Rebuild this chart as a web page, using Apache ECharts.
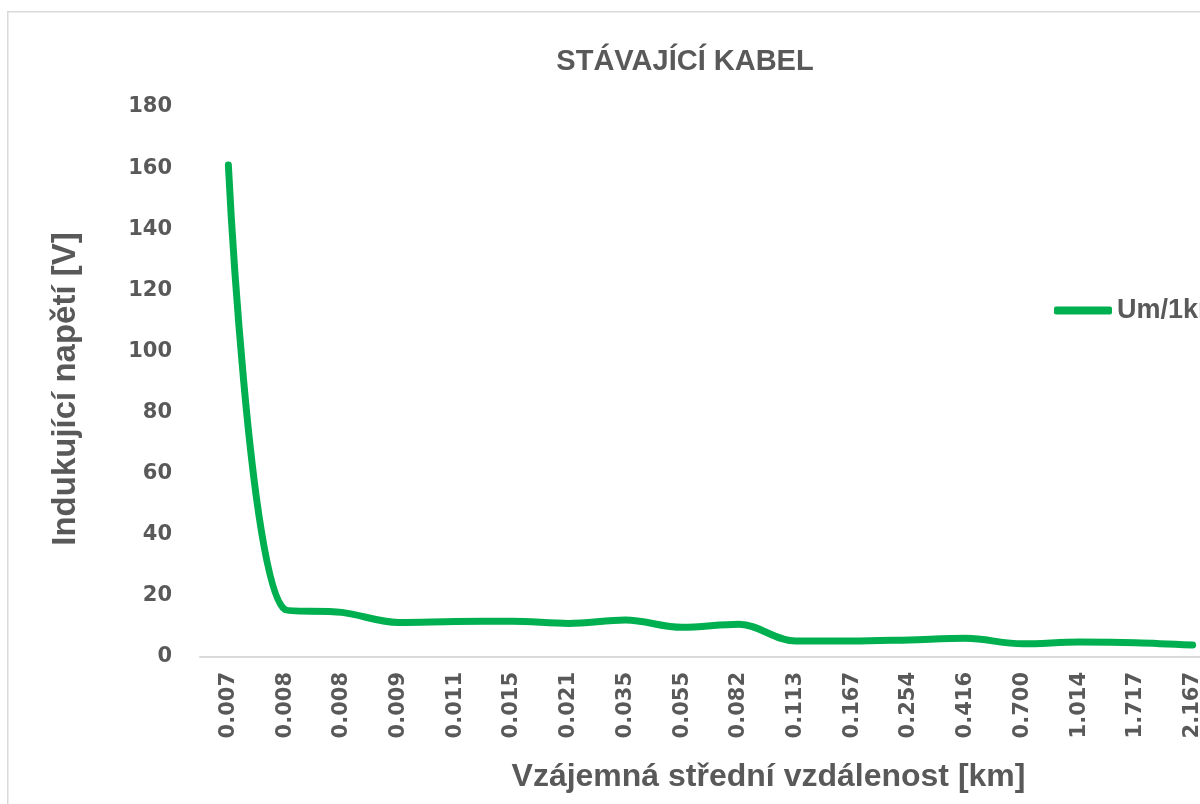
<!DOCTYPE html>
<html>
<head>
<meta charset="utf-8">
<script src="https://cdn.jsdelivr.net/npm/echarts@6/dist/echarts.min.js"></script>
<style>
html,body{margin:0;padding:0;background:#fff;}
#chart{width:1200px;height:804px;}
</style>
</head>
<body>
<div id="chart"></div>
<script>
const categories = ['0.007','0.008','0.008','0.009','0.011','0.015','0.021','0.035','0.055','0.082','0.113','0.167','0.254','0.416','0.700','1.014','1.717','2.167'];
const seriesName = 'Um/1km';
const values = [161, 15.5, 14.6, 11.3, 11.6, 11.7, 11.0, 12.1, 9.7, 10.7, 5.2, 5.2, 5.6, 6.1, 4.3, 4.9, 4.7, 3.9];
const chartTitle = 'STÁVAJÍCÍ KABEL';
const xAxisTitle = 'Vzájemná střední vzdálenost [km]';
const yAxisTitle = 'Indukující napětí [V]';

const grey = '#595959';
const green = '#00B050';
const chart = echarts.init(document.getElementById('chart'));
chart.setOption({
  animation: false,
  backgroundColor: '#fff',
  graphic: [{
    type: 'rect', left: 7, top: 11, silent: true, z: -10,
    shape: {width: 1400, height: 1000},
    style: {fill: '#fff', stroke: '#d9d9d9', lineWidth: 1.5}
  }],
  title: {
    text: chartTitle, left: 680, top: 42, textAlign: 'center',
    textStyle: {fontFamily: 'Liberation Sans', fontWeight: 'bold', fontSize: 29, color: grey}
  },
  legend: {
    data: [{name: seriesName, icon: 'roundRect'}],
    left: 1049, top: 292,
    itemWidth: 58, itemHeight: 8,
    textStyle: {fontFamily: 'Liberation Sans', fontWeight: 'bold', fontSize: 27, color: grey}
  },
  grid: {left: 200, top: 107, width: 1021, height: 550, outerBoundsMode: 'none', containLabel: false},
  xAxis: {
    type: 'category',
    data: categories,
    boundaryGap: true,
    axisLine: {lineStyle: {color: '#d9d9d9', width: 2}},
    axisTick: {show: false},
    axisLabel: {rotate: 90, margin: 15, interval: 0, fontFamily: 'DejaVu Sans', fontWeight: 'bold', fontSize: 21, color: grey},
    name: xAxisTitle, nameLocation: 'middle', nameGap: 104,
    nameTextStyle: {fontFamily: 'Liberation Sans', fontWeight: 'bold', fontSize: 32, color: grey, padding: [0, 0, 0, 116]}
  },
  yAxis: {
    type: 'value', min: 0, max: 180, interval: 20,
    axisLine: {show: false}, axisTick: {show: false}, splitLine: {show: false},
    axisLabel: {margin: 28, fontFamily: 'DejaVu Sans', fontWeight: 'bold', fontSize: 21, color: grey},
    name: yAxisTitle, nameLocation: 'middle', nameGap: 118,
    nameTextStyle: {fontFamily: 'Liberation Sans', fontWeight: 'bold', fontSize: 33, color: grey, padding: [0, 14, 0, 0]}
  },
  series: [{
    name: seriesName,
    type: 'line',
    data: values,
    smooth: 0.35,
    showSymbol: false,
    symbol: 'none',
    color: green,
    lineStyle: {color: green, width: 7, cap: 'round', join: 'round'}
  }]
});
</script>
</body>
</html>
